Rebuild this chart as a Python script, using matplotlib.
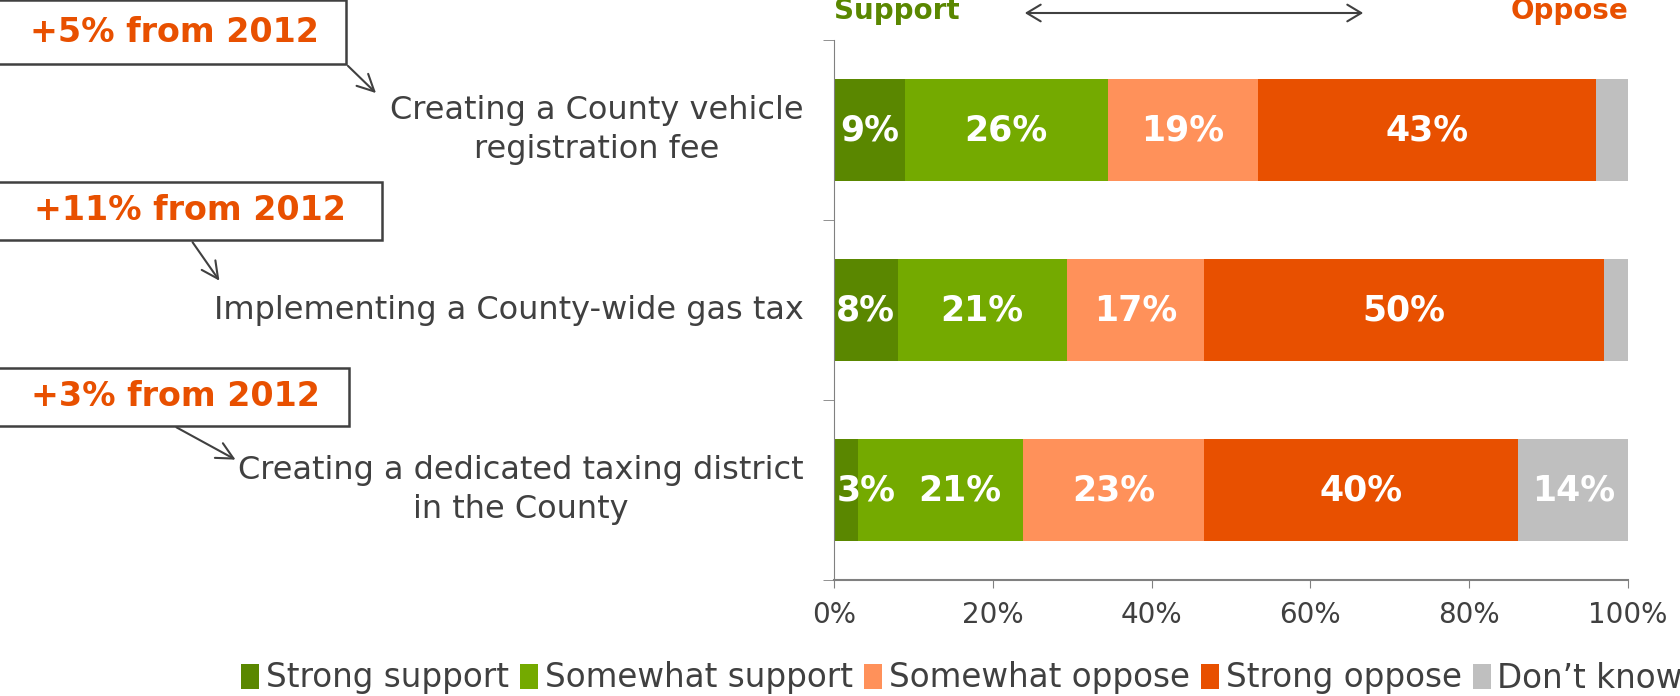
import matplotlib
matplotlib.use("Agg")
import matplotlib.pyplot as plt
from matplotlib.patches import Rectangle, FancyArrowPatch

plt.rcParams['font.family'] = ['DejaVu Sans']

questions = [
    "Creating a County vehicle\nregistration fee",
    "Implementing a County-wide gas tax",
    "Creating a dedicated taxing district\nin the County",
]
series_names = ["Strong support", "Somewhat support", "Somewhat oppose",
                "Strong oppose", "Don\u2019t know"]
strong_support = [8.9, 8.0, 3.0]
somewhat_support = [25.6, 21.3, 20.8]
somewhat_oppose = [18.9, 17.3, 22.8]
strong_oppose = [42.6, 50.4, 39.6]
dont_know = [4.0, 3.0, 13.9]
change_notes = ["+5% from 2012", "+11% from 2012", "+3% from 2012"]

colors = ["#5A8700", "#74AA00", "#FF915A", "#E85000", "#BFBFBF"]
grey = "#404040"

W, H = 1681, 696
fig = plt.figure(figsize=(W / 100, H / 100), dpi=100)
ax = fig.add_axes([834 / W, 1 - 580 / H, (1628 - 834) / W, (580 - 40) / H])


def px(x, y):
    return (x / W, 1 - y / H)


all_series = [strong_support, somewhat_support, somewhat_oppose, strong_oppose, dont_know]
ypos = list(range(len(questions)))
left = [0.0] * len(questions)
for name, vals, col in zip(series_names, all_series, colors):
    ax.barh(ypos, vals, left=left, height=0.57, color=col, label=name)
    for y, v, l in zip(ypos, vals, left):
        if v >= 5 or name == "Strong support":
            xt = l + v / 2
            if name == "Strong support":
                xt = max(xt, 4.0)  # keep narrow labels inside the plot area
            elif name == "Somewhat support" and l < 5:
                xt += 2.5  # nudge away from the small first label
            ax.text(xt, y, f"{v:.0f}%", ha="center", va="center",
                    color="white", fontsize=25, fontweight="bold")
    left = [a + b for a, b in zip(left, vals)]

ax.set_xlim(0, 100)
ax.set_ylim(len(questions) - 0.5, -0.5)
ax.set_yticks(ypos)
ax.set_yticklabels(questions, fontsize=23, color=grey, ha="right", va="center",
                   multialignment="center", linespacing=1.3)
ax.tick_params(axis="y", length=0, pad=22)
ax.set_yticks([-0.5, 0.5, 1.5, 2.5], minor=True)
ax.tick_params(axis="y", which="minor", length=8, color="#808080", direction="out")
ax.set_xticks([0, 20, 40, 60, 80, 100])
ax.set_xticklabels(["0%", "20%", "40%", "60%", "80%", "100%"])
ax.tick_params(axis="x", length=6, color="#808080", labelsize=20, labelcolor=grey, pad=9)
for s in ["top", "right"]:
    ax.spines[s].set_visible(False)
ax.spines["left"].set_color("#808080")
ax.spines["bottom"].set_color("#808080")
ax.spines["bottom"].set_linewidth(1.5)

# Support / Oppose header
fig.text(*px(834, 11), "Support", color="#5A8700", fontsize=20, fontweight="bold",
         ha="left", va="center")
fig.text(*px(1628, 11), "Oppose", color="#E85000", fontsize=20, fontweight="bold",
         ha="right", va="center")
fig.patches.append(FancyArrowPatch(px(1022, 13), px(1366, 13), transform=fig.transFigure,
                                   arrowstyle="<->,head_length=10,head_width=6",
                                   color=grey, lw=1.5))

# change-from-2012 boxes
boxes = [(-5, 0, 346, 64), (-5, 182, 382, 240), (-5, 368, 349, 426)]
note_x = [174, 190, 175]
arrows = [((346, 64), (378, 95)), ((191, 240), (221, 283)), ((174, 426), (238, 461))]
for note, nx, (x0, y0, x1, y1), (a, b) in zip(change_notes, note_x, boxes, arrows):
    bl = px(x0, y1)
    tr = px(x1, y0)
    fig.patches.append(Rectangle(bl, tr[0] - bl[0], tr[1] - bl[1], transform=fig.transFigure,
                                 facecolor="white", edgecolor=grey, lw=1.8))
    fig.text(*px(nx, (y0 + y1) / 2), note, color="#E85000", fontsize=24,
             fontweight="bold", ha="center", va="center")
    fig.patches.append(FancyArrowPatch(px(*a), px(*b), transform=fig.transFigure,
                                       arrowstyle="->,head_length=12,head_width=6",
                                       color=grey, lw=1.5))

fig.legend(loc="center", bbox_to_anchor=(px(962, 678)), ncol=5, frameon=False,
           fontsize=23.5, labelcolor=grey, handlelength=0.55, handleheight=0.8,
           handletextpad=0.2, columnspacing=0.35, borderaxespad=0)

fig.savefig("out.png", dpi=100)
